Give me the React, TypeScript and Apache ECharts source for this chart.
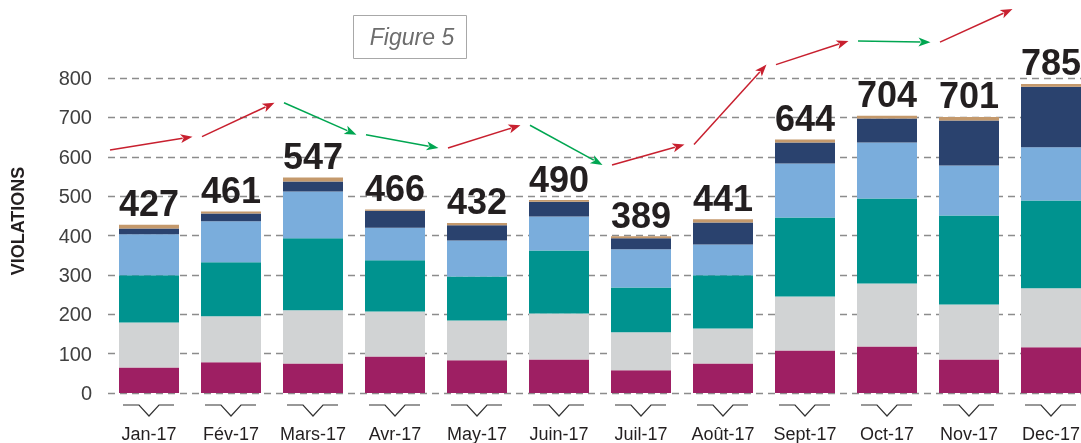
import React, { useEffect, useRef } from "react";
import * as echarts from "echarts";

const months = ["Jan-17", "Fév-17", "Mars-17", "Avr-17", "May-17", "Juin-17", "Juil-17", "Août-17", "Sept-17", "Oct-17", "Nov-17", "Dec-17"];
const magenta = [65, 78, 75, 93, 83, 85, 58, 75, 108, 118, 85, 116];
const grey = [114, 117, 135, 114, 101, 117, 96, 89, 137, 160, 140, 150];
const teal = [120, 137, 183, 130, 112, 160, 114, 135, 201, 216, 226, 223];
const lightBlue = [104, 104, 119, 83, 91, 86, 97, 78, 137, 142, 127, 135];
const navy = [15, 20, 25, 43, 39, 38, 28, 56, 53, 61, 114, 154];
const tan = [9, 5, 10, 3, 6, 4, 5, 8, 8, 7, 9, 7];
const totals = [427, 461, 547, 466, 432, 490, 389, 441, 644, 704, 701, 785];
const yTicks = { min: 0, max: 800, interval: 100 };

const TREND_OFFSET = 190;

export default function App() {
  const ref = useRef<HTMLDivElement>(null);
  useEffect(() => {
    if (!ref.current) return;
    const chart = echarts.init(ref.current, null, { renderer: "svg" });
    const colors = ["#9e1f63", "#d1d3d4", "#00938f", "#7aaddc", "#2a426e", "#c4996c"];
    const seriesData = [magenta, grey, teal, lightBlue, navy, tan];
    const bars = seriesData.map((d, k) => ({
      type: "bar",
      stack: "total",
      data: d,
      barWidth: 60,
      itemStyle: { color: colors[k] },
      emphasis: { disabled: true },
      silent: true,
      label:
        k === 5
          ? {
              show: true,
              position: "top",
              distance: 3,
              formatter: (p: any) => String(totals[p.dataIndex]),
              fontFamily: "Liberation Sans",
              fontWeight: "bold",
              fontSize: 36,
              color: "#231f20",
            }
          : { show: false },
    }));

    const trendData = totals.slice(0, -1).map((v, i) => [i, v, totals[i + 1]]);
    const chevronData = months.map((_, i) => [i, 0]);

    chart.setOption({
      animation: false,
      grid: { left: 108, right: 0, top: 78, bottom: 50, outerBoundsMode: "none", containLabel: false },
      xAxis: {
        type: "category",
        data: months,
        axisLine: { show: false },
        axisTick: { show: false },
        axisLabel: { interval: 0, color: "#231f20", fontSize: 18, lineHeight: 18, fontFamily: "Liberation Sans", margin: 32 },
      },
      yAxis: {
        type: "value",
        ...yTicks,
        axisLine: { show: false },
        axisTick: { show: false },
        axisLabel: { color: "#404040", fontSize: 20, fontFamily: "Liberation Sans", margin: 16 },
        splitLine: { show: true, lineStyle: { color: "#8c8c8c", type: [7, 5], width: 1.3 } },
      },
      graphic: [
        {
          type: "text",
          x: 18,
          y: 221,
          rotation: Math.PI / 2,
          style: {
            text: "VIOLATIONS",
            fontFamily: "Liberation Sans",
            fontWeight: "bold",
            fontSize: 18,
            fill: "#231f20",
            align: "center",
            verticalAlign: "middle",
          },
        },
        {
          type: "rect",
          shape: { x: 353.5, y: 15.5, width: 113, height: 43 },
          style: { fill: "#fff", stroke: "#a8a8a8", lineWidth: 1 },
        },
        {
          type: "text",
          x: 412,
          y: 37,
          style: {
            text: "Figure 5",
            fontFamily: "Liberation Sans",
            fontStyle: "italic",
            fontSize: 23,
            fill: "#6d6d6d",
            align: "center",
            verticalAlign: "middle",
          },
        },
      ],
      series: [
        ...bars,
        {
          type: "custom",
          silent: true,
          clip: false,
          z: 5,
          data: chevronData,
          encode: { x: 0, y: 1 },
          renderItem: (params: any, api: any) => {
            const p = api.coord([api.value(0), 0]);
            const cx = p[0];
            const y = p[1] + 12;
            return {
              type: "polyline",
              shape: { points: [[cx - 26, y], [cx - 10, y], [cx, y + 11], [cx + 10, y], [cx + 25, y]] },
              style: { stroke: "#333", lineWidth: 1.2, fill: null },
            };
          },
        },
        {
          type: "custom",
          silent: true,
          clip: false,
          z: 5,
          data: trendData,
          encode: { x: 0, y: 1 },
          renderItem: (params: any, api: any) => {
            const i = api.value(0);
            const v1 = api.value(1);
            const v2 = api.value(2);
            const a = api.coord([i, v1 + TREND_OFFSET]);
            const b = api.coord([i + 1, v2 + TREND_OFFSET]);
            const w = api.size([1, 0])[0];
            const x1 = a[0] - w / 2 + (i === 0 ? 2 : 12);
            const x2 = b[0] - w / 2 + 2.5;
            const y1 = a[1];
            const y2 = b[1];
            const dx = x2 - x1;
            const dy = y2 - y1;
            const len = Math.sqrt(dx * dx + dy * dy);
            const ux = dx / len;
            const uy = dy / len;
            const hl = 12;
            const hw = 4.5;
            const bx = x2 - ux * hl;
            const by = y2 - uy * hl;
            const color = v2 > v1 ? "#c8202f" : "#00a651";
            return {
              type: "group",
              children: [
                {
                  type: "line",
                  shape: { x1, y1, x2: bx + ux * 2, y2: by + uy * 2 },
                  style: { stroke: color, lineWidth: 1.5 },
                },
                {
                  type: "polygon",
                  shape: {
                    points: [
                      [x2, y2],
                      [bx - uy * hw, by + ux * hw],
                      [bx + ux * 3, by + uy * 3],
                      [bx + uy * hw, by - ux * hw],
                    ],
                  },
                  style: { fill: color },
                },
              ],
            };
          },
        },
      ],
    });
    return () => chart.dispose();
  }, []);
  return (
    <div style={{ position: "fixed", left: 0, top: 0, width: 1081, height: 443, overflow: "hidden" }}>
      <div ref={ref} style={{ width: 1092, height: 443 }} />
    </div>
  );
}
